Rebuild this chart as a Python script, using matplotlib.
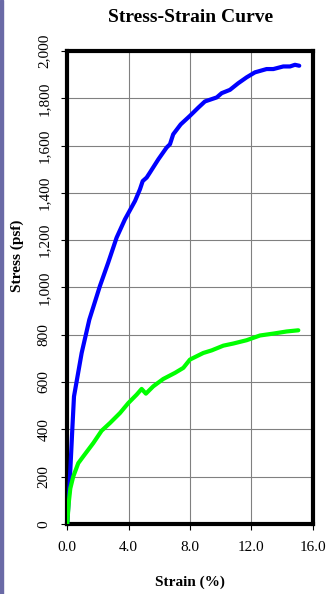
import matplotlib.pyplot as plt
from matplotlib.ticker import FuncFormatter
from matplotlib.patches import Rectangle

# Values (strain in %, stress in psf)
blue_strain = [0, 0.18, 0.33, 0.44, 0.94, 1.44, 2.13, 2.67, 3.22, 3.76, 4.42, 4.74,
               4.92, 5.18, 5.39, 5.94, 6.48, 6.70, 6.91, 7.40, 8.00, 8.55, 8.98, 9.75,
               10.07, 10.61, 11.15, 11.70, 12.24, 13.00, 13.44, 14.09, 14.53, 14.85, 15.13]
blue_stress = [0, 200, 400, 539, 723, 864, 1006, 1105, 1211, 1288, 1366, 1415,
               1450, 1465, 1486, 1542, 1592, 1606, 1648, 1690, 1726, 1761, 1787, 1804,
               1822, 1836, 1864, 1889, 1910, 1924, 1924, 1935, 1935, 1942, 1938]

green_strain = [0, 0.1, 0.2, 0.39, 0.72, 1.04, 1.70, 2.24, 2.79, 3.44, 3.98, 4.53,
                4.85, 5.13, 5.61, 6.26, 7.03, 7.57, 8.00, 8.87, 9.42, 10.18, 10.83,
                11.70, 12.57, 13.44, 14.31, 15.07]
green_stress = [0, 90, 150, 200, 257, 285, 342, 394, 427, 469, 511, 547,
                571, 551, 582, 613, 639, 660, 695, 723, 734, 754, 763,
                777, 797, 805, 814, 819]

x_ticks = [0, 4, 8, 12, 16]
y_ticks = [0, 200, 400, 600, 800, 1000, 1200, 1400, 1600, 1800, 2000]

plt.rcParams['font.family'] = ['Liberation Serif', 'DejaVu Serif']

fig = plt.figure(figsize=(3.28, 5.94), dpi=100)
ax = fig.add_axes([0.205, 0.118, 0.748, 0.796])

# purple strip on the left edge
fig.patches.append(Rectangle((0, 0), 3 / 328, 1, transform=fig.transFigure,
                             color='#6a6aa6', zorder=0))

ax.plot(blue_strain, blue_stress, color='#0000ff', lw=3, solid_capstyle='round', zorder=3)
ax.plot(green_strain, green_stress, color='#00ff00', lw=3, solid_capstyle='round', zorder=3)

ax.set_xlim(0, 16)
ax.set_ylim(0, 2000)
ax.set_xticks(x_ticks)
ax.set_yticks(y_ticks)
ax.xaxis.set_major_formatter(FuncFormatter(lambda v, p: '%.1f' % v))
ax.yaxis.set_major_formatter(FuncFormatter(lambda v, p: '{:,.0f}'.format(v)))
ax.grid(True, color='#808080', lw=0.8)
ax.set_axisbelow(True)

for s in ax.spines.values():
    s.set_linewidth(3)
    s.set_color('black')

ax.tick_params(axis='both', direction='out', length=4, width=0.8, labelsize=11, pad=8)
for lab in ax.get_yticklabels():
    lab.set_rotation(90)
    lab.set_va('center')

fig.text(0.582, 0.971, 'Stress-Strain Curve', ha='center', va='center',
         fontsize=14, fontweight='bold')
fig.text(0.58, 0.019, 'Strain (%)', ha='center', va='center',
         fontsize=11, fontweight='bold')
fig.text(0.052, 0.57, 'Stress (psf)', ha='center', va='center', rotation=90,
         fontsize=11, fontweight='bold')

fig.savefig('out.png', dpi=100)
